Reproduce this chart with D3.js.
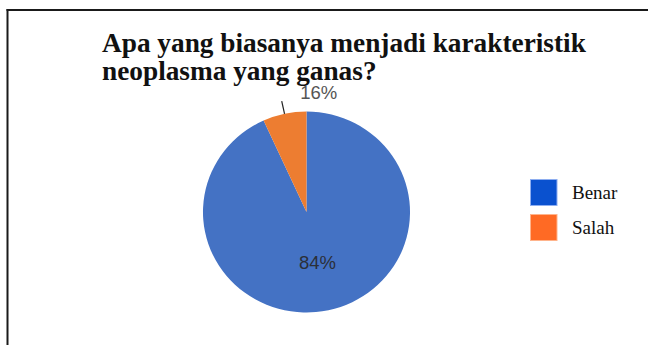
<!DOCTYPE html>
<html>
<head>
<meta charset="utf-8">
<script src="https://cdn.jsdelivr.net/npm/d3@7/dist/d3.min.js"></script>
<style>
  html, body { margin: 0; padding: 0; background: #fff; }
  svg { display: block; }
</style>
</head>
<body>
<svg id="chart" width="648" height="345"></svg>
<script>
// ---- data ----
const titleLines = ["Apa yang biasanya menjadi karakteristik", "neoplasma yang ganas?"];
const categories = ["Benar", "Salah"];
const sliceShares = [93.2, 6.8];          // slice sizes as drawn in the picture
const sliceLabels = ["84%", "16%"];       // labels printed on the picture
const pieColors = ["#4472C4", "#ED7D31"];
const legendColors = ["#0A51CF", "#FF6A24"];

// ---- layout ----
const W = 648, H = 345;
const cx = 306.5, cy = 212, radius = 100.5, sx = 1.03;   // picture is slightly stretched horizontally

const svg = d3.select("#chart");

// frame (top and left rules)
svg.append("line").attr("x1", 6.5).attr("x2", W).attr("y1", 10).attr("y2", 10)
  .attr("stroke", "#1a1a1a").attr("stroke-width", 2);
svg.append("line").attr("x1", 7.5).attr("x2", 7.5).attr("y1", 9).attr("y2", H)
  .attr("stroke", "#1a1a1a").attr("stroke-width", 2);

// title
const title = svg.append("text")
  .attr("font-family", "'Liberation Serif', 'Times New Roman', serif")
  .attr("font-weight", "bold")
  .attr("font-size", 27.3)
  .attr("fill", "#111");
titleLines.forEach((t, i) => {
  title.append("tspan").attr("x", 102).attr("y", 52 + i * 27.5).text(t);
});

// pie
const pie = d3.pie().sort(null).value(d => d.v);
const data = categories.map((c, i) => ({ c, v: sliceShares[i], label: sliceLabels[i], i }));
const arcs = pie(data);
const arc = d3.arc().innerRadius(0).outerRadius(radius);

const g = svg.append("g").attr("transform", `translate(${cx},${cy}) scale(${sx},1)`);
g.selectAll("path.slice").data(arcs).join("path")
  .attr("class", "slice")
  .attr("d", arc)
  .attr("fill", d => pieColors[d.data.i]);

const gl = svg.append("g").attr("transform", `translate(${cx},${cy})`);

// inside label (Benar)
const big = arcs[0];
const cpos = arc.centroid(big);
gl.append("text")
  .attr("x", cpos[0] * sx).attr("y", cpos[1] + 1)
  .attr("dy", "0.35em")
  .attr("text-anchor", "middle")
  .attr("font-family", "'Liberation Sans', Arial, sans-serif")
  .attr("font-size", 18.5)
  .attr("fill", "#2b2f38")
  .text(big.data.label);

// outside label with leader (Salah)
const small = arcs[1];
const mid = (small.startAngle + small.endAngle) / 2;
const p0 = [Math.sin(mid) * radius * sx, -Math.cos(mid) * radius];
const p1 = [Math.sin(mid) * (radius + 13) * sx, -Math.cos(mid) * (radius + 13)];
gl.append("line")
  .attr("x1", p0[0]).attr("y1", p0[1])
  .attr("x2", p1[0]).attr("y2", p1[1])
  .attr("stroke", "#222").attr("stroke-width", 1.2);
gl.append("text")
  .attr("x", p1[0] + 18.5).attr("y", p1[1] - 2.5)
  .attr("text-anchor", "start")
  .attr("font-family", "'Liberation Sans', Arial, sans-serif")
  .attr("font-size", 18.5)
  .attr("fill", "#555")
  .text(small.data.label);

// legend
const legend = svg.append("g").attr("transform", "translate(530,179)");
const items = legend.selectAll("g").data(categories).join("g")
  .attr("transform", (d, i) => `translate(0,${i * 35})`);
items.append("rect")
  .attr("x", 0.5).attr("y", 0.5).attr("width", 26.5).attr("height", 26)
  .attr("fill", (d, i) => legendColors[i])
  .attr("stroke", (d, i) => i === 0 ? "#8eaef0" : "#ffb48c")
  .attr("stroke-width", 1);
items.append("text")
  .attr("x", 42).attr("y", 20)
  .attr("font-family", "'Liberation Serif', 'Times New Roman', serif")
  .attr("font-size", 19)
  .attr("fill", "#111")
  .text(d => d);
</script>
</body>
</html>
